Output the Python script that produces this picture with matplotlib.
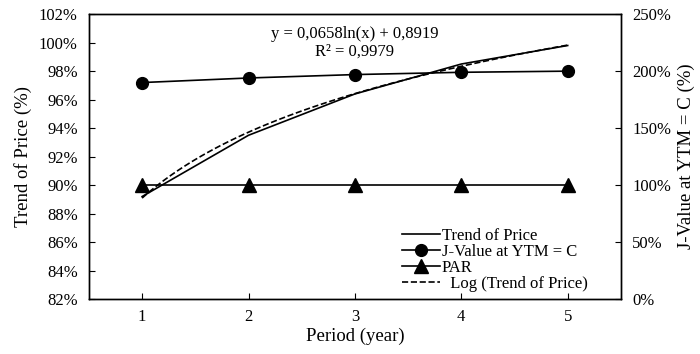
import numpy as np
from matplotlib import pyplot as plt
from matplotlib.ticker import PercentFormatter

plt.rcParams['font.family'] = ['Liberation Serif', 'DejaVu Serif']

periods = [1, 2, 3, 4, 5]
trend_price = [89.2, 93.5, 96.4, 98.5, 99.8]     # % (eje izquierdo)
j_value = [190, 194, 197, 199, 200]              # % (eje derecho)
par = [100, 100, 100, 100, 100]                  # % (eje derecho)

eq_text = "y = 0,0658ln(x) + 0,8919"
r2_text = "R² = 0,9979"

# ajuste logaritmico sobre los datos
coef = np.polyfit(np.log(periods), np.array(trend_price), 1)
x_fit = np.linspace(periods[0], periods[-1], 100)
y_fit = coef[0] * np.log(x_fit) + coef[1]

fig = plt.figure(figsize=(7, 3.54), dpi=100)
ax = fig.add_axes([0.127, 0.155, 0.76, 0.805])
ax2 = ax.twinx()

l1, = ax.plot(periods, trend_price, color='black', lw=1.2, label='Trend of Price')
l4, = ax.plot(x_fit, y_fit, color='black', lw=1.2, ls='--', label='  Log (Trend of Price)')
l2, = ax2.plot(periods, j_value, color='black', lw=1.2, marker='o', ms=8.5,
               label='J-Value at YTM = C')
l3, = ax2.plot(periods, par, color='black', lw=1.2, marker='^', ms=9.5, label='PAR')

ax.set_xlim(0.5, 5.5)
ax.set_ylim(82, 102)
ax.set_yticks(np.arange(82, 103, 2))
ax.yaxis.set_major_formatter(PercentFormatter(decimals=0))
ax.set_xticks(periods)
ax2.set_ylim(0, 250)
ax2.set_yticks(np.arange(0, 251, 50))
ax2.yaxis.set_major_formatter(PercentFormatter(decimals=0))

for a in (ax, ax2):
    a.tick_params(direction='in', length=4, labelsize=12, pad=8)
    for s in a.spines.values():
        s.set_linewidth(1.0)
ax.tick_params(axis='x', pad=7)
ax2.tick_params(axis='y', pad=8)

ax.set_xlabel("Period (year)", fontsize=13.5, labelpad=2)
ax.set_ylabel("Trend of Price (%)", fontsize=13.5, labelpad=5)
ax2.set_ylabel("J-Value at YTM = C (%)", fontsize=13.5, labelpad=5)

ax.text(3.0, 100.6, eq_text, ha='center', va='center', fontsize=12)
ax.text(3.0, 99.4, r2_text, ha='center', va='center', fontsize=12)

ax.legend([l1, l2, l3, l4], [h.get_label() for h in (l1, l2, l3, l4)],
          loc='lower left', bbox_to_anchor=(0.588, 0.025), frameon=False,
          fontsize=12, handlelength=2.3, handletextpad=0.1, labelspacing=0.0,
          borderaxespad=0, borderpad=0)

fig.savefig("out.png", dpi=100)
